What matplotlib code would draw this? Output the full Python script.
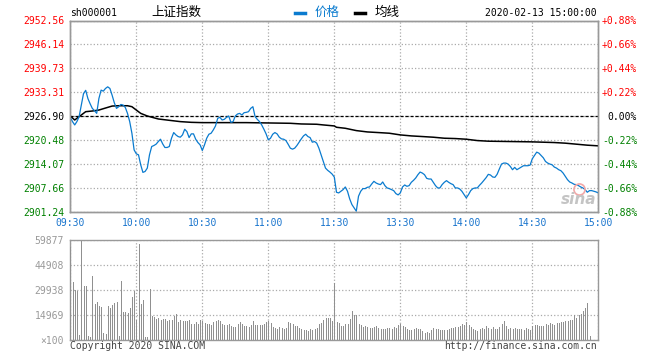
import numpy as np
import matplotlib
matplotlib.use("Agg")
import matplotlib.pyplot as plt
from matplotlib.lines import Line2D

plt.rcParams['font.family'] = ['DejaVu Sans Mono', 'Noto Sans CJK SC']

# ---- data ----
prev_close = 2926.90
price_ticks = ['2901.24', '2907.66', '2914.07', '2920.48', '2926.90',
               '2933.31', '2939.73', '2946.14', '2952.56']
pct_ticks = ['-0.88%', '-0.66%', '-0.44%', '-0.22%', '0.00%',
             '+0.22%', '+0.44%', '+0.66%', '+0.88%']
time_pos = [0, 30, 60, 90, 120, 150, 180, 210, 240]
time_labels = ['09:30', '10:00', '10:30', '11:00', '11:30',
               '13:30', '14:00', '14:30', '15:00']
vol_ticks = ['×100', '14969', '29938', '44908', '59877']

# one value per minute (241 points, 11:30 and 13:00 share a slot)
price = [
    2926.54, 2925.39, 2924.50, 2925.40, 2926.72, 2929.84, 2932.90, 2933.80, 2931.60, 2930.20,
    2928.95, 2928.33, 2927.61, 2931.60, 2933.85, 2933.58, 2934.30, 2934.74, 2934.30, 2932.50,
    2930.46, 2928.95, 2929.40, 2930.00, 2929.84, 2929.20, 2927.60, 2925.40, 2922.27, 2917.80,
    2916.74, 2916.47, 2913.80, 2911.75, 2912.00, 2912.90, 2916.47, 2918.70, 2918.97, 2919.33,
    2920.04, 2920.66, 2919.40, 2918.44, 2918.44, 2918.70, 2920.93, 2922.45, 2921.82, 2921.38,
    2921.20, 2921.82, 2923.34, 2922.71, 2921.10, 2922.10, 2922.10, 2920.66, 2919.77, 2919.15,
    2917.63, 2919.15, 2920.93, 2922.00, 2922.27, 2923.16, 2924.23, 2926.28, 2926.54, 2925.83,
    2926.00, 2926.54, 2926.90, 2925.20, 2925.39, 2926.90, 2927.43, 2927.60, 2927.17, 2927.79,
    2927.88, 2928.06, 2928.95, 2929.40, 2926.72, 2926.00, 2925.39, 2924.50, 2923.34, 2922.09,
    2920.48, 2920.93, 2922.00, 2922.45, 2922.09, 2921.20, 2920.75, 2920.66, 2920.30, 2919.33,
    2918.26, 2917.99, 2918.26, 2918.97, 2919.86, 2920.75, 2921.55, 2922.00, 2921.38, 2921.10,
    2919.86, 2920.04, 2919.60, 2918.26, 2916.47, 2914.70, 2912.90, 2912.30, 2911.84, 2911.30,
    2910.50,
    2906.40, 2906.23, 2906.67, 2907.12, 2907.83, 2906.67, 2904.62, 2903.11, 2902.22,
    2901.33, 2905.34, 2906.67, 2907.39, 2907.39, 2907.74, 2907.83, 2908.63, 2909.35, 2908.90,
    2908.63, 2908.46, 2909.17, 2908.19, 2907.57, 2907.39, 2907.12, 2906.85, 2906.05, 2905.70,
    2906.23, 2907.83, 2908.37, 2908.01, 2908.19, 2909.08, 2909.61, 2910.24, 2911.13, 2911.84,
    2911.57, 2911.13, 2910.15, 2909.97, 2909.97, 2909.08, 2908.19, 2907.57, 2907.57, 2908.46,
    2909.08, 2909.53, 2909.08, 2908.72, 2908.46, 2907.57, 2907.57, 2907.30, 2906.67, 2905.78,
    2904.89, 2905.78, 2906.85, 2907.39, 2907.57, 2907.57, 2908.28, 2908.90, 2909.61, 2910.33,
    2911.22, 2911.04, 2910.51, 2910.42, 2911.22, 2912.64, 2913.98, 2914.25, 2914.25, 2913.98,
    2913.36, 2912.47, 2913.09, 2912.47, 2912.82, 2913.18, 2913.54, 2913.54, 2913.54, 2913.71,
    2915.41, 2916.30, 2917.19, 2916.92, 2916.30, 2915.67, 2914.69, 2914.25, 2913.98, 2913.80,
    2913.18, 2912.91, 2912.47, 2912.20, 2911.57, 2910.68, 2909.79, 2909.17, 2908.90, 2908.55,
    2908.46, 2908.19, 2907.83, 2907.57, 2907.12, 2906.41, 2906.85, 2906.85, 2906.67, 2906.50,
    2906.23,
]

# average line, read at coarser steps
avg_idx = [0, 2, 5, 7, 10, 13, 16, 19, 22, 26, 28, 30, 32, 35, 40, 45, 50, 55, 60, 80,
           100, 105, 112, 115, 120, 121, 125, 130, 135, 140, 145, 150, 155, 160, 165, 170,
           175, 180, 185, 190, 200, 210, 220, 225, 230, 235, 240]
avg_val = [2926.90, 2925.83, 2927.17, 2928.06, 2928.24, 2928.50, 2929.04, 2929.57, 2929.66,
           2929.66, 2929.40, 2928.50, 2927.61, 2926.90, 2926.10, 2925.74, 2925.39, 2925.20,
           2925.12, 2925.12, 2924.94, 2924.76, 2924.68, 2924.50, 2924.23, 2923.87, 2923.60,
           2922.98, 2922.62, 2922.45, 2922.27, 2921.82, 2921.55, 2921.38, 2921.20, 2920.93,
           2920.84, 2920.66, 2920.30, 2920.13, 2920.04, 2919.95, 2919.77, 2919.60, 2919.33,
           2919.06, 2918.88]

# volume per minute, in lots of 100
volume = [
    55686, 34729, 29939, 29340, 2994, 59478, 32334, 32334, 2395, 1996,
    38321, 21356, 22753, 20358, 19759, 4391, 3792, 20358, 19360, 20957,
    22354, 22753, 2395, 35327, 16765, 16765, 15967, 19360, 25947, 29340,
    11975, 57482, 21356, 23951, 1796, 1796, 30737, 14370, 13772, 12375,
    13373, 11975, 12375, 12375, 11377, 11975, 11975, 14370, 15368, 10778,
    11975, 11377, 11377, 11377, 11975, 9381, 9381, 10778, 9381, 11975,
    11377, 9980, 9381, 9381, 8782, 10778, 11377, 11975, 11377, 9381,
    8782, 8782, 9381, 8383, 7984, 7984, 9381, 10778, 9381, 8383,
    8383, 7984, 8782, 11377, 8782, 8782, 8782, 8782, 9381, 10778,
    11377, 10379, 7984, 7385, 6786, 7984, 7385, 6786, 7385, 10778,
    9980, 9381, 8383, 8383, 7385, 6786, 5988, 5988, 5389, 6387,
    5988, 6387, 7385, 9381, 9980, 11975, 13373, 13373, 13373, 11377,
    34329, 10778, 9980, 8383, 8383, 9381, 9381, 12774, 17364, 14770,
    14969, 9381, 8782, 7984, 8383, 7984, 7385, 7385, 7984, 8383,
    7385, 6786, 6387, 6786, 7385, 7385, 6786, 7784, 7385, 8782,
    9381, 8383, 7984, 6387, 5788, 5988, 6786, 7385, 6387, 6786,
    5389, 4391, 4790, 3992, 5988, 7385, 6786, 6387, 5788, 5788,
    5788, 5788, 6786, 7385, 7385, 7784, 7784, 8383, 9381, 8782,
    10778, 8782, 7984, 6387, 5788, 5389, 6387, 7385, 6387, 8383,
    7385, 6786, 7984, 6387, 6387, 7984, 9381, 11377, 8383, 6786,
    7385, 6786, 7385, 6786, 6786, 6786, 5988, 7385, 6387, 5988,
    8383, 8782, 8782, 8383, 8383, 8383, 9381, 8782, 9980, 9381,
    8782, 9980, 9980, 10778, 10778, 11377, 11377, 11776, 11975, 14770,
    13373, 14770, 15768, 17364, 19360, 21955, 2395, 0, 0, 0, 0,
]

BLUE = '#0a7bcf'
TICKBLUE = '#1874cd'
RED = '#ff0000'
GREEN = '#008000'
GRID = '#aaaaaa'
SPINE = '#999999'

W, H = 660, 360
fig = plt.figure(figsize=(6.6, 3.6), dpi=100)


def box(l, t, r, b):
    return [l / W, 1 - b / H, (r - l) / W, (b - t) / H]


ax = fig.add_axes(box(70.3, 20.5, 598.3, 211.5))
axv = fig.add_axes(box(70.3, 240, 598.3, 340))

x = np.arange(len(price))
yt = [float(s) for s in price_ticks]

ax.grid(True, linestyle=':', color=GRID, linewidth=0.9)
ax.axhline(prev_close, color='black', lw=0.9, ls=(0, (2.5, 1.5)), zorder=2)
ax.plot(avg_idx, avg_val, color='black', lw=1.1, zorder=3)
ax.plot(x, price, color=BLUE, lw=0.9, zorder=4)
ax.set_xlim(0, 240)
ax.set_ylim(yt[0], yt[-1])
ax.set_yticks(yt)
ax.set_yticklabels(price_ticks)
ax.set_xticks(time_pos)
ax.set_xticklabels(time_labels)
ax.tick_params(length=0, labelsize=7)
ax.tick_params(axis='y', pad=4.5)
ax.tick_params(axis='x', pad=5, colors=TICKBLUE)


def lvl_color(v):
    if abs(v - prev_close) < 1e-6:
        return 'black'
    return RED if v > prev_close else GREEN


for lbl, v in zip(ax.get_yticklabels(), yt):
    lbl.set_color(lvl_color(v))

ax2 = ax.twinx()
ax2.set_ylim(yt[0], yt[-1])
ax2.set_yticks(yt)
ax2.set_yticklabels(pct_ticks)
ax2.tick_params(length=0, labelsize=7, pad=28)
for lbl, v in zip(ax2.get_yticklabels(), yt):
    lbl.set_color(lvl_color(v))
    lbl.set_horizontalalignment('right')

for a in (ax, ax2):
    for s in a.spines.values():
        s.set_color(SPINE)
        s.set_linewidth(1)

# volume
vt = [0] + [float(s) for s in vol_ticks[1:]]
axv.grid(True, linestyle=':', color=GRID, linewidth=0.9)
axv.vlines(x, 0, volume, colors='#909090', linewidth=0.45, antialiased=False, zorder=3)
axv.set_xlim(0, 240)
axv.set_ylim(0, vt[-1])
axv.set_yticks(vt)
axv.set_yticklabels(vol_ticks)
axv.set_xticks(time_pos)
axv.set_xticklabels([])
axv.tick_params(length=0, labelsize=7, pad=4.5, colors='#999999')
for s in axv.spines.values():
    s.set_color(SPINE)
    s.set_linewidth(1)

# header
ty = 1 - 13 / H
fig.text(70 / W, ty, 'sh000001', fontsize=7, va='center', ha='left', color='black')
fig.text(151 / W, 1 - 12 / H, '上证指数', fontsize=9, va='center', ha='left',
         family=['Noto Sans CJK SC', 'DejaVu Sans'], color='black')
fig.add_artist(Line2D([295 / W, 305 / W], [1 - 13 / H] * 2, color=BLUE, lw=2.5))
fig.text(315 / W, 1 - 12 / H, '价格', fontsize=9, va='center', ha='left',
         family=['Noto Sans CJK SC', 'DejaVu Sans'], color=BLUE)
fig.add_artist(Line2D([355 / W, 365 / W], [1 - 13 / H] * 2, color='black', lw=2.5))
fig.text(375 / W, 1 - 12 / H, '均线', fontsize=9, va='center', ha='left',
         family=['Noto Sans CJK SC', 'DejaVu Sans'], color='black')
fig.text(597 / W, ty, '2020-02-13 15:00:00', fontsize=7, va='center', ha='right',
         color='black')

# footer
fig.text(70 / W, 1 - 346 / H, 'Copyright 2020 SINA.COM', fontsize=7, va='center',
         ha='left', color='#444444')
fig.text(597 / W, 1 - 346 / H, 'http://finance.sina.com.cn', fontsize=7, va='center',
         ha='right', color='#444444')

# watermark
fig.text(579 / W, 1 - 199 / H, 'sina', fontsize=11, va='center', ha='center',
         family='DejaVu Sans', style='italic', weight='bold', color='#c4c4c4')
fig.add_artist(Line2D([579 / W], [1 - 189 / H], marker='o', mfc='none', mec='#f2a8a8',
                      ms=8, mew=1.2, lw=0))

fig.savefig('out.png', dpi=100)
